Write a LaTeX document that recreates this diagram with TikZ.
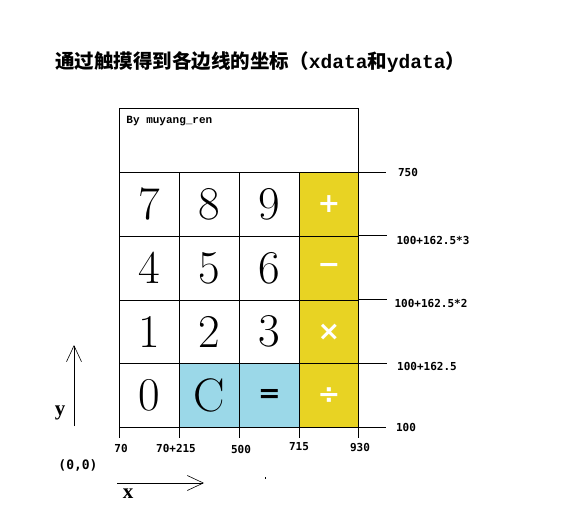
\documentclass[tikz,border=0pt]{standalone}
\usepackage{fontspec}
\newfontfamily\cjk{Noto Sans CJK SC}
\newfontfamily\monoa{Liberation Mono}
\newfontfamily\monob{DejaVu Sans Mono}
\newfontfamily\opfont{DejaVu Sans}
\newfontfamily\axfont{Liberation Serif}
\usetikzlibrary{arrows.meta}
\definecolor{ylw}{RGB}{232,211,35}
\definecolor{blu}{RGB}{155,216,232}
\begin{document}
\begin{tikzpicture}[x=1pt,y=-1pt,line width=0.9pt,
  cell/.style={draw,minimum width=60pt,minimum height=63.75pt,inner sep=0pt,anchor=north west,
    font=\fontsize{47}{47}\selectfont},
  opcell/.style={cell,fill=ylw,text=white,font=\opfont\bfseries\fontsize{27}{27}\selectfont},
  bluecell/.style={cell,fill=blu},
  lbl/.style={font=\monob\bfseries\fontsize{11}{11}\selectfont,inner sep=0pt},
  axarrow/.style={line width=0.7pt,-{Straight Barb[length=16pt,width=15pt,line width=0.6pt]}},
  ticks/.style={line width=0.9pt}]
\useasboundingbox (0,0) rectangle (570,522);
% title
\node[anchor=west,inner sep=0pt,font=\cjk\bfseries\fontsize{19.5}{19.5}\selectfont] (title) at (55,62)
  {通过触摸得到各边线的坐标（{\monoa\bfseries xdata}和{\monoa\bfseries ydata}）};
% header box
\node[draw,minimum width=239pt,minimum height=64pt,inner sep=0pt,anchor=north west] (hdr) at (119,108) {};
\node[anchor=north west,inner sep=0pt,font=\monoa\bfseries\fontsize{11}{11}\selectfont] (by) at (126,116) {By muyang\_ren};
% row 1
\node[cell] (k7) at (119,172) {7};
\node[cell] (k8) at (179,172) {8};
\node[cell] (k9) at (239,172) {9};
\node[opcell,minimum width=59pt] (kplus) at (299,172) {+};
% row 2
\node[cell] (k4) at (119,235.75) {4};
\node[cell] (k5) at (179,235.75) {5};
\node[cell] (k6) at (239,235.75) {6};
\node[opcell,minimum width=59pt] (kminus) at (299,235.75) {−};
% row 3
\node[cell] (k1) at (119,299.5) {1};
\node[cell] (k2) at (179,299.5) {2};
\node[cell] (k3) at (239,299.5) {3};
\node[opcell,minimum width=59pt] (ktimes) at (299,299.5) {×};
% row 4
\node[cell] (k0) at (119,363.25) {0};
\node[bluecell] (kc) at (179,363.25) {C};
\node[bluecell,font=\opfont\bfseries\fontsize{27}{27}\selectfont] (keq) at (239,363.25) {=};
\node[opcell,minimum width=59pt] (kdiv) at (299,363.25) {÷};
% extension ticks
\draw[ticks] (k0.south west) -- ++(0,10);
\draw[ticks] (kc.south west) -- ++(0,10);
\draw[ticks] (keq.south west) -- ++(0,10);
\draw[ticks] (kdiv.south west) -- ++(0,10);
\draw[ticks] (kdiv.south east) -- ++(0,10);
\draw[ticks] (kplus.north east) -- ++(27,0);
\draw[ticks] (kminus.north east) -- ++(28,0);
\draw[ticks] (ktimes.north east) -- ++(28,0);
\draw[ticks] (kdiv.north east) -- ++(28,0);
\draw[ticks] (kdiv.south east) -- ++(27,0);
% right labels
\node[lbl] (l750) at (408,172) {750};
\node[lbl] (l3) at (433,240) {100+162.5*3};
\node[lbl] (l2) at (431,303) {100+162.5*2};
\node[lbl] (l1) at (427,366) {100+162.5};
\node[lbl] (l0) at (406,427) {100};
% bottom labels
\node[lbl] (b70) at (121,448) {70};
\node[lbl] (b285) at (176,448) {70+215};
\node[lbl] (b500) at (241,449) {500};
\node[lbl] (b715) at (299,447) {715};
\node[lbl] (b930) at (360,448) {930};
% axes
\coordinate (ya) at (74,426);
\coordinate (yb) at (74,345);
\coordinate (xa) at (117,483);
\coordinate (xb) at (204,483);
\draw[axarrow] (ya) -- (yb);
\draw[axarrow] (xa) -- (xb);
\node[inner sep=0pt,font=\axfont\bfseries\fontsize{21}{21}\selectfont] (ylab) at (60,413) {y};
\node[inner sep=0pt,font=\axfont\bfseries\fontsize{21}{21}\selectfont] (xlab) at (128,494) {x};
\node[inner sep=0pt,font=\monob\bfseries\fontsize{13}{13}\selectfont] (origin) at (78,465) {(0,0)};
\fill (264.5,476.5) rectangle (265.5,478.5);
\end{tikzpicture}
\end{document}
